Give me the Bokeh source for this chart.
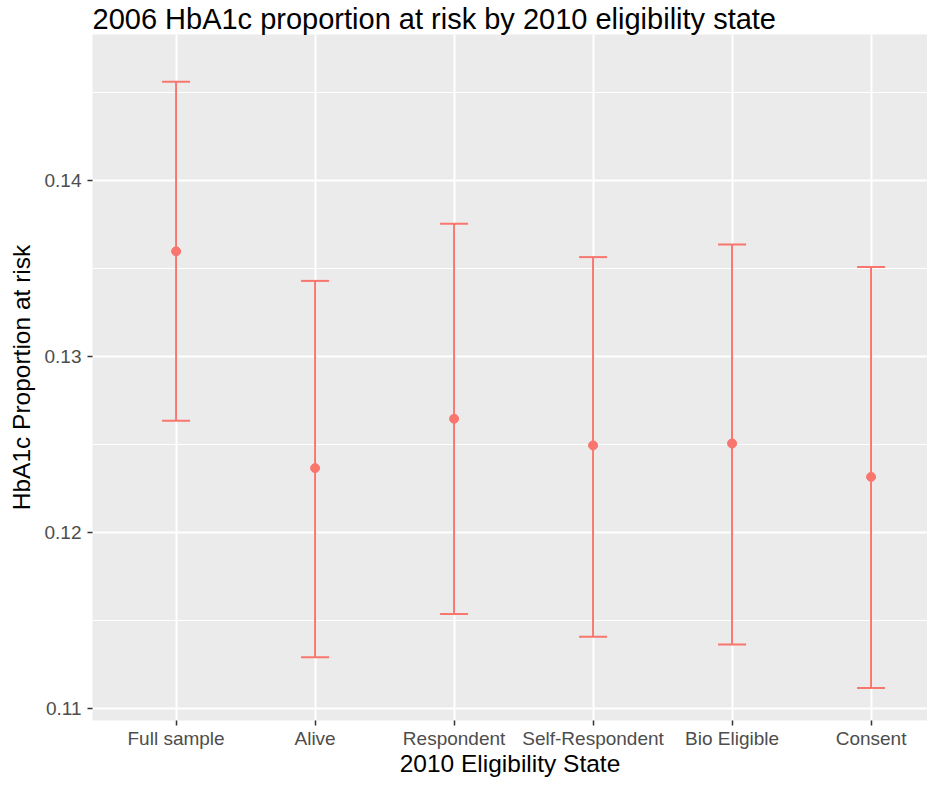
from bokeh.plotting import figure
from bokeh.models import FixedTicker, Range1d, TeeHead, Whisker, ColumnDataSource
from bokeh.embed import file_html
from bokeh.resources import INLINE

categories = ["Full sample", "Alive", "Respondent", "Self-Respondent", "Bio Eligible", "Consent"]
means = [0.13597, 0.12366, 0.12646, 0.12495, 0.12506, 0.12316]
upper = [0.14560, 0.13429, 0.13754, 0.13564, 0.13636, 0.13508]
lower = [0.12635, 0.11292, 0.11538, 0.11409, 0.11364, 0.11118]
y_ticks = [0.11, 0.12, 0.13, 0.14]
y_minor = [0.105, 0.115, 0.125, 0.135, 0.145]

xs = list(range(1, len(categories) + 1))
src = ColumnDataSource(dict(x=xs, m=means, u=upper, l=lower))

p = figure(width=927, height=780, output_backend="svg", toolbar_location=None,
           x_range=Range1d(0.3986, 6.406), y_range=Range1d(0.10933, 0.14828),
           min_border_left=92, min_border_right=0, min_border_top=33, min_border_bottom=60,
           background_fill_color="#EBEBEB", border_fill_color="white", outline_line_color=None)

p.title.text = "2006 HbA1c proportion at risk by 2010 eligibility state"
p.title.text_font = "Liberation Sans"
p.title.text_font_size = "29px"
p.title.text_font_style = "normal"
p.title.text_color = "black"
p.title.offset = 0
p.title.standoff = 0

w = Whisker(source=src, base="x", upper="u", lower="l", dimension="height",
            line_color="#F8766D", line_width=2,
            upper_head=TeeHead(size=28, line_color="#F8766D", line_width=2),
            lower_head=TeeHead(size=28, line_color="#F8766D", line_width=2))
p.add_layout(w)
p.scatter("x", "m", source=src, size=9, color="#F8766D")

p.xaxis.ticker = FixedTicker(ticks=xs)
p.xaxis.major_label_overrides = {x: c for x, c in zip(xs, categories)}
p.yaxis.ticker = FixedTicker(ticks=y_ticks, minor_ticks=y_minor)
p.yaxis.major_label_overrides = {t: f"{t:.2f}" for t in y_ticks}

for ax in (p.xaxis[0], p.yaxis[0]):
    ax.axis_line_color = None
    ax.major_tick_line_color = "#333333"
    ax.major_tick_line_width = 1.5
    ax.major_tick_in = 0
    ax.major_tick_out = 5
    ax.minor_tick_line_color = None
    ax.major_label_text_font = "Liberation Sans"
    ax.major_label_text_font_size = "19px"
    ax.major_label_text_color = "#4D4D4D"
    ax.axis_label_text_font = "Liberation Sans"
    ax.axis_label_text_font_size = "24.5px"
    ax.axis_label_text_font_style = "normal"
    ax.axis_label_text_color = "black"

p.xaxis.major_label_standoff = 2
p.yaxis.major_label_standoff = 6
p.xaxis.axis_label = "2010 Eligibility State"
p.yaxis.axis_label = "HbA1c Proportion at risk"
p.xaxis.axis_label_standoff = -2
p.yaxis.axis_label_standoff = 7

p.xgrid.ticker = FixedTicker(ticks=xs)
p.xgrid.grid_line_color = "white"
p.xgrid.grid_line_width = 2
p.ygrid.ticker = FixedTicker(ticks=y_ticks, minor_ticks=y_minor)
p.ygrid.grid_line_color = "white"
p.ygrid.grid_line_width = 2
p.ygrid.minor_grid_line_color = "white"
p.ygrid.minor_grid_line_width = 1

open("out.html", "w").write(file_html(p, INLINE))
